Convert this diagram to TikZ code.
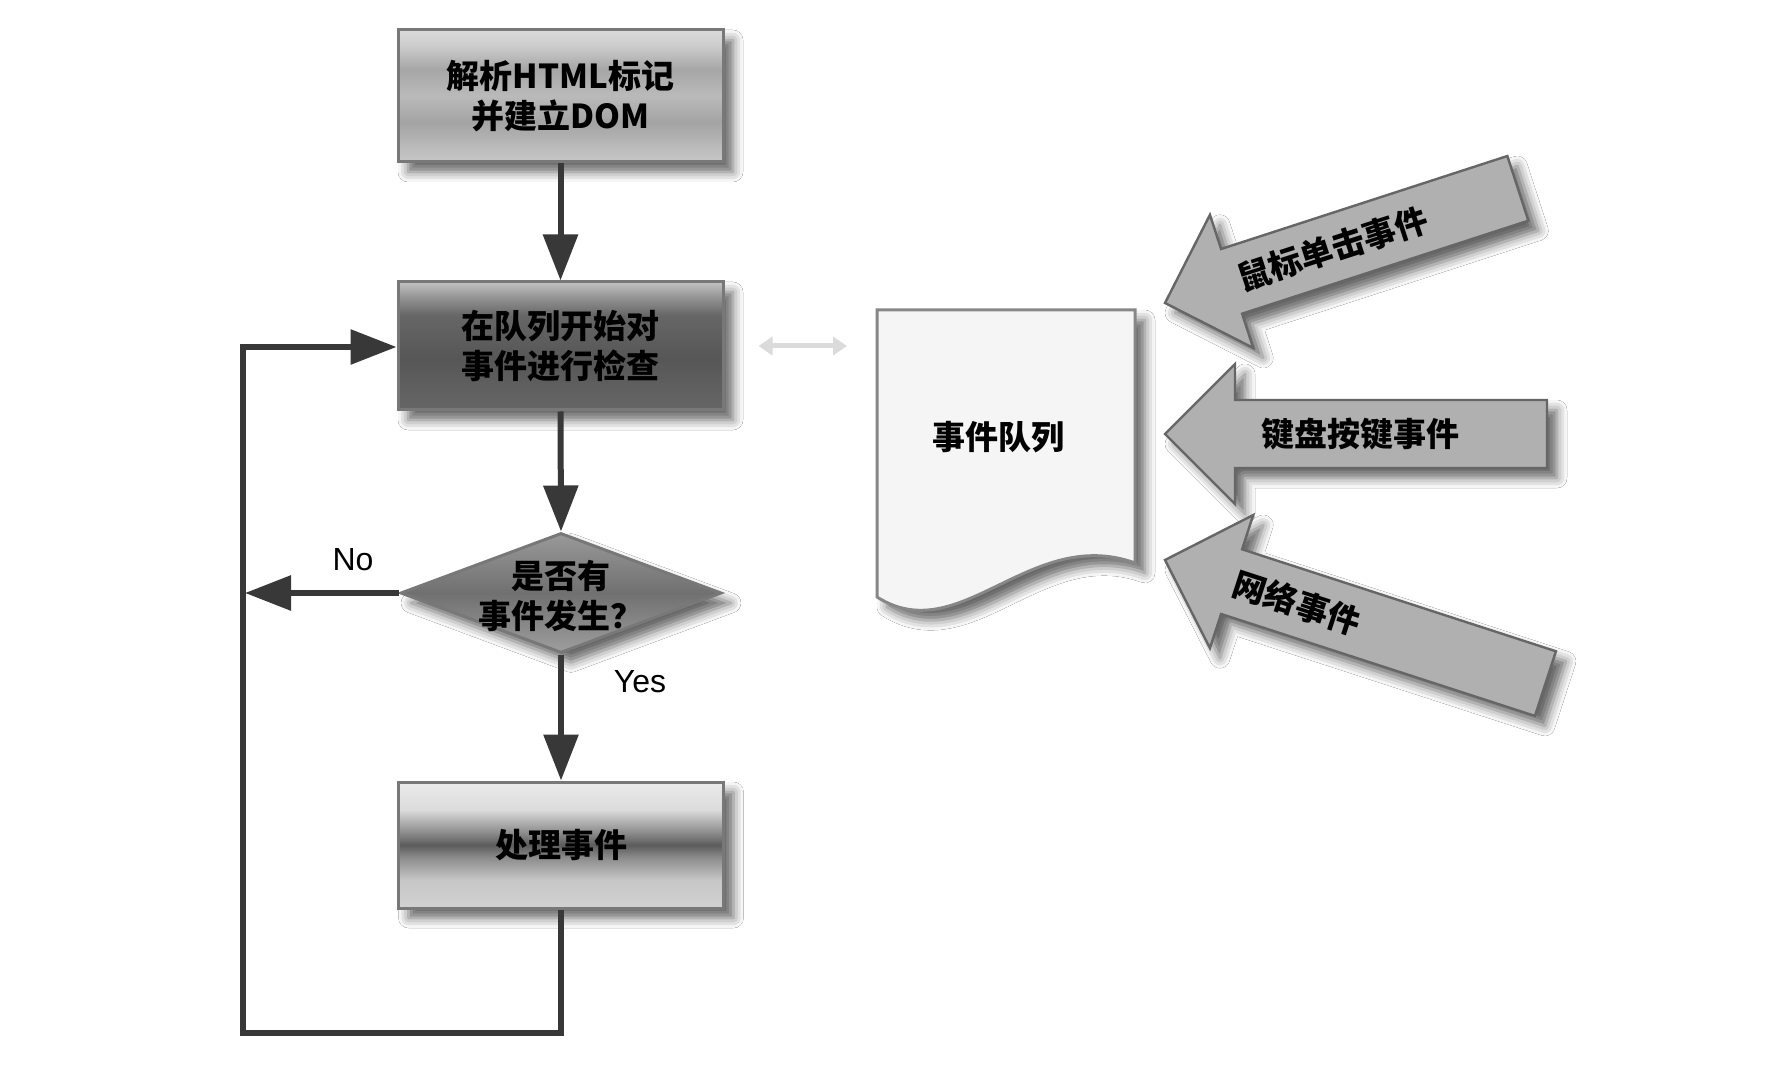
\documentclass[tikz,border=0pt]{standalone}
\usepackage{fontspec}
\setmainfont{Liberation Sans}
\newfontfamily\cjk{Noto Sans CJK SC}
\usetikzlibrary{arrows.meta,shapes.geometric,shadows.blur}

% path occupies 25bp..75bp of the shading
\pgfdeclareverticalshading{boxA}{100bp}{color(0bp)=(black!22); color(25bp)=(black!22); color(30bp)=(black!26); color(40bp)=(black!36); color(50bp)=(black!27); color(60bp)=(black!35); color(69bp)=(black!20); color(75bp)=(black!14); color(100bp)=(black!14)}
\pgfdeclareverticalshading{boxB}{100bp}{color(0bp)=(black!60); color(25bp)=(black!60); color(45bp)=(black!66); color(62bp)=(black!60); color(69bp)=(black!42); color(75bp)=(black!24); color(100bp)=(black!24)}
\pgfdeclareverticalshading{boxC}{100bp}{color(0bp)=(black!18); color(25bp)=(black!18); color(36bp)=(black!22); color(45bp)=(black!45); color(50bp)=(black!64); color(55bp)=(black!45); color(64bp)=(black!14); color(75bp)=(black!8); color(100bp)=(black!8)}
\pgfdeclareverticalshading{diaS}{100bp}{color(0bp)=(black!38); color(25bp)=(black!38); color(50bp)=(black!56); color(75bp)=(black!40); color(100bp)=(black!40)}

\begin{document}
\begin{tikzpicture}[x=0.5pt,y=-0.5pt,
  softshadow/.style={blur shadow={shadow xshift=5pt, shadow yshift=-5pt, shadow blur radius=5pt, shadow opacity=60}},
  flowbox/.style={draw=black!53, line width=1.5pt, minimum width=162.5pt, inner sep=0pt,
    align=center, font=\cjk\bfseries\fontsize{16.5}{20}\selectfont, softshadow},
  diabox/.style={diamond, draw=black!53, line width=1.5pt, minimum width=160.5pt, minimum height=60pt,
    inner sep=0pt, shading=diaS, softshadow},
  cjktext/.style={font=\cjk\bfseries\fontsize{16.5}{20}\selectfont, align=center, inner sep=0pt},
  lbl/.style={font=\fontsize{16}{19}\selectfont, inner sep=0pt},
  flowarrow/.style={draw=black!78, line width=3pt, line join=miter, -{Triangle[length=23pt,width=17pt]}},
  faintarrow/.style={draw=black!14, line width=2.5pt, {Triangle[length=7pt,width=9pt]}-{Triangle[length=7pt,width=9pt]}},
  blockarrow/.style={draw=black!60, line width=1.2pt, fill=black!31, line join=miter, softshadow},
  docshape/.style={draw=black!47, line width=1.5pt, fill=black!4, softshadow}
]
\fill[white] (0,0) rectangle (1776,1068);
\useasboundingbox (0,0) rectangle (1776,1068);

% flowchart
\node[flowbox, minimum height=66pt, shading=boxA] (box1) at (560.5,96) {解析HTML标记\\并建立DOM};
\node[flowbox, minimum height=64pt, shading=boxB] (box2) at (560.5,346) {在队列开始对\\事件进行检查};
\node[diabox] (dec) at (561,593) {};
\node[cjktext] (dectext) at (561,596) {是否有\\事件发生？};
\node[flowbox, minimum height=63pt, shading=boxC] (box3) at (561,845) {处理事件};

\node[lbl] (no) at (353,560) {No};
\node[lbl] (yes) at (640,682) {Yes};

\coordinate (noEnd) at (245,593);
\coordinate (lpBR) at (561,1033);
\coordinate (lpBL) at (243,1033);
\coordinate (lpTL) at (243,347);

\draw[flowarrow] (box1.south) -- (box2.north);
\draw[flowarrow] (box2.south) -- (dec.north);
\draw[flowarrow] (dec.south) -- (box3.north);
\draw[flowarrow] (dec.west) -- (noEnd);
\draw[flowarrow] (box3.south) -- (lpBR) -- (lpBL) -- (lpTL) -- (box2.west |- lpTL);

% event queue document
\path[docshape] (877,310) -- (1135,310) -- (1135,563) .. controls (1030,525) and (960,650) .. (877,597) -- cycle;
\node[cjktext] (doc) at (998,437) {事件队列};
\coordinate (docW) at (877,346);
\draw[faintarrow] ([xshift=17pt]box2.east) -- ([xshift=-15pt]docW);

% block arrows
\begin{scope}[shift={(1165,303)}, rotate=18]
  \path[blockarrow] (0,0) -- (70,-70) -- (70,-34) -- (371,-34) -- (371,34) -- (70,34) -- (70,70) -- cycle;
  \node[cjktext, rotate=18] (mouse) at (176,0) {鼠标单击事件};
\end{scope}
\begin{scope}[shift={(1165,434)}]
  \path[blockarrow] (0,0) -- (70,-70) -- (70,-34) -- (382,-34) -- (382,34) -- (70,34) -- (70,70) -- cycle;
  \node[cjktext] (keyb) at (195,0) {键盘按键事件};
\end{scope}
\begin{scope}[shift={(1165,560)}, rotate=-18]
  \path[blockarrow] (0,0) -- (70,-70) -- (70,-34) -- (400,-34) -- (400,34) -- (70,34) -- (70,70) -- cycle;
  \node[cjktext, rotate=-18] (net) at (139,0) {网络事件};
\end{scope}
\end{tikzpicture}
\end{document}
